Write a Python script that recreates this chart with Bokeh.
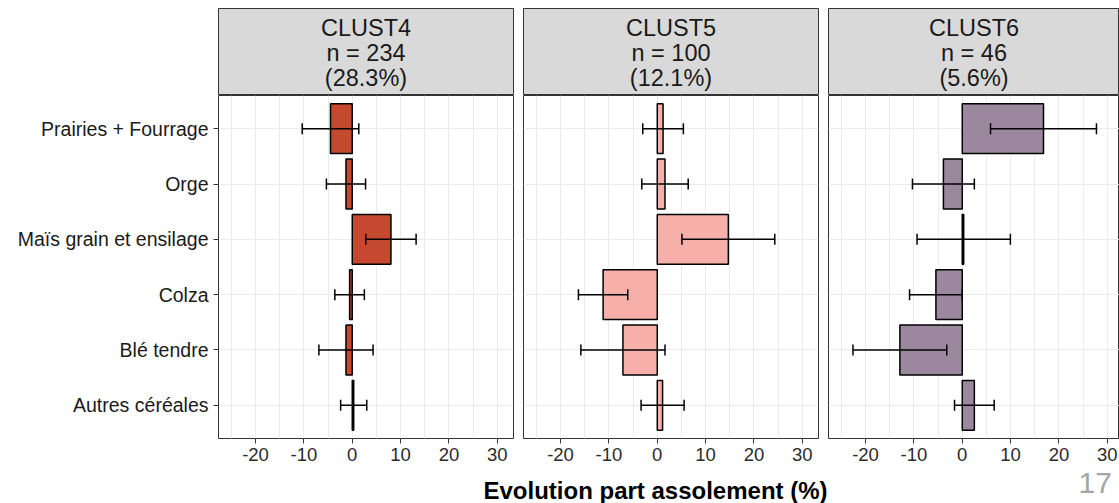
from bokeh.plotting import figure
from bokeh.layouts import column, row
from bokeh.models import FactorRange, Range1d, FixedTicker, Whisker, TeeHead, ColumnDataSource
from bokeh.embed import file_html
from bokeh.resources import INLINE
from bokeh.core.properties import value

# ---------------- data ----------------
categories = ["Prairies + Fourrage", "Orge", "Maïs grain et ensilage",
              "Colza", "Blé tendre", "Autres céréales"]
clusters = ["CLUST4", "CLUST5", "CLUST6"]
n_obs = [234, 100, 46]
pct = [28.3, 12.1, 5.6]

mean_clust4 = [-4.5, -1.3, 8.0, -0.55, -1.3, 0.3]
err_clust4 = [5.85, 4.05, 5.2, 3.05, 5.6, 2.7]
mean_clust5 = [1.2, 1.6, 14.7, -11.2, -7.1, 1.1]
err_clust5 = [4.2, 4.8, 9.6, 5.1, 8.7, 4.45]
mean_clust6 = [16.8, -3.9, 0.3, -5.45, -12.9, 2.5]
err_clust6 = [10.95, 6.4, 9.65, 5.45, 9.7, 4.1]

means = [mean_clust4, mean_clust5, mean_clust6]
errs = [err_clust4, err_clust5, err_clust6]
fills = ["#C4492E", "#F7AFA9", "#9B889E"]

x_ticks = [-20, -10, 0, 10, 20, 30]
x_minor = [-25, -15, -5, 5, 15, 25]
x_title = "Evolution part assolement (%)"
page_number = "17"

# ---------------- layout ----------------
FONT = "Liberation Sans"
X_START = -27.66
PX_PER_UNIT = 4.836
TOP = 8
HEADER_H = 87
PANEL_FRAME_H = 343
PANEL_BOTTOM = 27
STRIP_H = 38
TOTAL_W = 1119

headers = []
panels = []
for i, cl in enumerate(clusters):
    first = i == 0
    last = i == len(clusters) - 1
    ml = 218 if first else 5
    mr = 0 if last else 5
    fw = 291 if last else 295
    tw = ml + fw + mr

    # strip header
    h = figure(width=tw, height=TOP + HEADER_H, x_range=Range1d(0, 1), y_range=Range1d(0, 1),
               min_border_left=ml, min_border_right=mr, min_border_top=TOP,
               min_border_bottom=0,
               x_axis_location=None, y_axis_location=None,
               toolbar_location=None, output_backend="svg")
    h.xgrid.visible = False
    h.ygrid.visible = False
    h.background_fill_color = "#D9D9D9"
    h.border_fill_color = "white"
    h.outline_line_color = "#333333"
    h.outline_line_width = 1
    h.text(x=[0.5], y=[0.49],
           text=[f"{cl}\nn = {n_obs[i]}\n({pct[i]}%)"],
           text_align="center", text_baseline="middle",
           text_font=value(FONT), text_font_size="23.5px",
           text_line_height=0.95, text_color="#1A1A1A")
    headers.append(h)

    # panel
    yr = FactorRange(*list(reversed(categories)), range_padding=0.1,
                     range_padding_units="absolute")
    xr = Range1d(X_START, X_START + fw / PX_PER_UNIT)
    p = figure(width=tw, height=PANEL_FRAME_H + PANEL_BOTTOM, x_range=xr, y_range=yr,
               min_border_left=ml, min_border_right=mr, min_border_top=0,
               min_border_bottom=PANEL_BOTTOM,
               y_axis_location="left" if first else None,
               toolbar_location=None, output_backend="svg")
    p.background_fill_color = "white"
    p.border_fill_color = "white"
    p.outline_line_color = "#333333"
    p.outline_line_width = 1

    p.xaxis.ticker = FixedTicker(ticks=x_ticks, minor_ticks=x_minor)
    p.xaxis.axis_line_color = None
    p.xaxis.major_tick_in = 0
    p.xaxis.major_tick_out = 5
    p.xaxis.major_tick_line_color = "#333333"
    p.xaxis.minor_tick_in = 0
    p.xaxis.minor_tick_out = 0
    p.xaxis.major_label_text_font = FONT
    p.xaxis.major_label_text_font_size = "18.5px"
    p.xaxis.major_label_text_color = "#2B2B2B"
    p.xaxis.major_label_standoff = 4
    p.xaxis.major_label_overrides = {t: str(t) for t in x_ticks}

    p.xgrid.grid_line_color = "#EBEBEB"
    p.xgrid.grid_line_width = 1
    p.xgrid.minor_grid_line_color = "#EBEBEB"
    p.xgrid.minor_grid_line_width = 1
    p.ygrid.grid_line_color = "#EBEBEB"
    p.ygrid.grid_line_width = 1

    if first:
        p.yaxis.axis_line_color = None
        p.yaxis.major_tick_in = 0
        p.yaxis.major_tick_out = 5
        p.yaxis.major_tick_line_color = "#333333"
        p.yaxis.major_label_text_font = FONT
        p.yaxis.major_label_text_font_size = "19.5px"
        p.yaxis.major_label_text_color = "#1A1A1A"
        p.yaxis.major_label_standoff = 5

    src = ColumnDataSource(dict(
        cat=categories,
        val=means[i],
        lo=[m - e for m, e in zip(means[i], errs[i])],
        hi=[m + e for m, e in zip(means[i], errs[i])],
    ))
    p.hbar(y="cat", left=0, right="val", height=0.9, source=src,
           fill_color=fills[i], line_color="black", line_width=1.5)
    wh = Whisker(base="cat", lower="lo", upper="hi", dimension="width", source=src,
                 line_color="black", line_width=1.5, level="glyph",
                 upper_head=TeeHead(size=11, line_width=1.5, line_color="black"),
                 lower_head=TeeHead(size=11, line_width=1.5, line_color="black"))
    p.add_layout(wh)
    panels.append(p)

# bottom strip: shared axis title and page number (pixel coordinates)
strip = figure(width=TOTAL_W, height=STRIP_H, x_range=Range1d(0, TOTAL_W),
               y_range=Range1d(STRIP_H, 0),
               min_border_left=0, min_border_right=0, min_border_top=0, min_border_bottom=0,
               x_axis_location=None, y_axis_location=None,
               toolbar_location=None, output_backend="svg")
strip.xgrid.visible = False
strip.ygrid.visible = False
strip.outline_line_color = None
strip.background_fill_color = "white"
strip.border_fill_color = "white"
strip.text(x=[655], y=[25], text=[x_title], text_align="center", text_baseline="middle",
           text_font=value(FONT), text_font_size="24px", text_font_style="bold",
           text_color="black")
strip.text(x=[1078], y=[17], text=[page_number], text_align="left",
           text_baseline="middle",
           text_font=value(FONT), text_font_size="30px", text_color="#A6A6A6")

layout = column(row(*headers, spacing=0), row(*panels, spacing=0), strip, spacing=0)
open("out.html", "w").write(file_html(layout, INLINE))
